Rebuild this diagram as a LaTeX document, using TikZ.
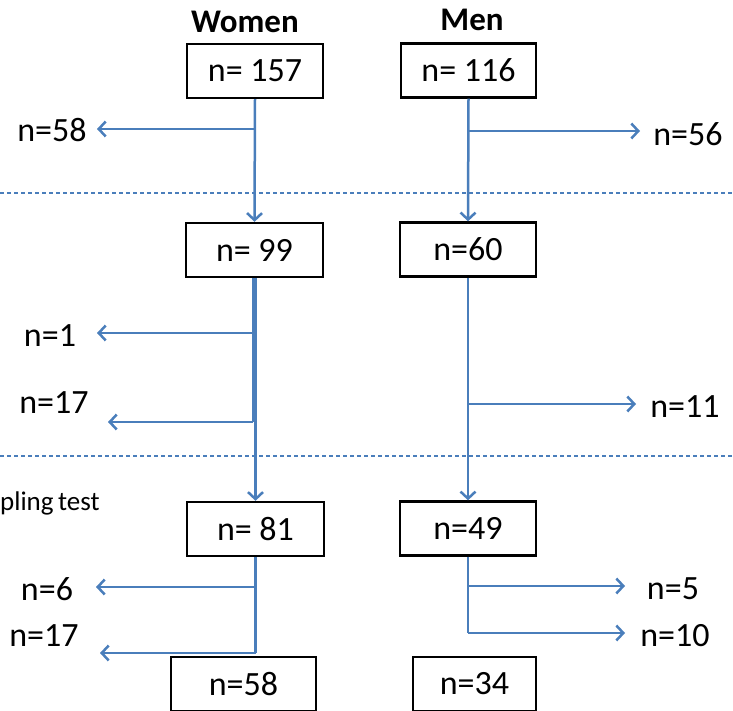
\documentclass[tikz,border=0pt]{standalone}
\usepackage{fontspec}
\setmainfont{Carlito}
\usetikzlibrary{arrows.meta}
\definecolor{flowblue}{HTML}{4A7EBB}
\tikzset{
  boxnode/.style={draw=black, line width=2.4pt, minimum width=#1, minimum height=54pt, inner sep=0pt, font=\fontsize{34}{40}\selectfont},
  lbl/.style={inner sep=0pt, font=\fontsize{34}{40}\selectfont},
  ttl/.style={inner sep=0pt, font=\fontsize{33}{40}\selectfont\bfseries},
  flow/.style={draw=flowblue, line width=2.5pt, -{Straight Barb[length=7pt,width=15pt,line width=2.5pt]}},
  plain/.style={draw=flowblue, line width=2.5pt},
  sep/.style={draw=flowblue, line width=1.1pt, dash pattern=on 4pt off 3pt}
}
\begin{document}
\begin{tikzpicture}[x=1pt,y=-1pt]
\useasboundingbox (0,0) rectangle (733,711);
\clip (0,0) rectangle (733,711);
% titles
\node[ttl] (tw) at (245,22) {Women};
\node[ttl] (tm) at (472,20) {Men};
% boxes
\node[boxnode=136pt] (w1) at (255,71) {n= 157};
\node[boxnode=135pt] (m1) at (468.5,70.5) {n= 116};
\node[boxnode=137pt] (w2) at (254.5,250) {n= 99};
\node[boxnode=136pt] (m2) at (468,249.5) {n=60};
\node[boxnode=137pt] (w3) at (255.5,529) {n= 81};
\node[boxnode=136pt] (m3) at (468,528.5) {n=49};
\node[boxnode=145pt] (w4) at (243.5,684) {n=58};
\node[boxnode=123pt] (m4) at (474.5,684) {n=34};
% separators
\coordinate (s1a) at (0,193); \coordinate (s1b) at (733,193);
\coordinate (s2a) at (0,456); \coordinate (s2b) at (733,456);
\draw[sep] (s1a) -- (s1b);
\draw[sep] (s2a) -- (s2b);
% side text
\node[inner sep=0pt, anchor=west, font=\fontsize{27}{30}\selectfont] (samp) at (0,503) {pling\,test};
% labels
\node[lbl] (l58) at (52,130) {n=58};
\node[lbl] (l56) at (688,134) {n=56};
\node[lbl] (l1) at (50,336) {n=1};
\node[lbl] (l17a) at (54,403) {n=17};
\node[lbl] (l11) at (685,407) {n=11};
\node[lbl] (l6) at (47,589) {n=6};
\node[lbl] (l17b) at (44,636) {n=17};
\node[lbl] (l5) at (673,589) {n=5};
\node[lbl] (l10) at (675,636) {n=10};
% branch coordinates
\coordinate (wb1) at (255,129); \coordinate (we1) at (97,129);
\coordinate (mb1) at (468.5,131); \coordinate (me1) at (640,131);
\coordinate (wb2) at (253,333); \coordinate (we2) at (97,333);
\coordinate (wb3) at (253,422); \coordinate (we3) at (108,422);
\coordinate (mb2) at (468,404); \coordinate (me2) at (636,404);
\coordinate (wb4) at (255.5,587); \coordinate (we4) at (96,587);
\coordinate (wb5) at (255.5,653); \coordinate (we5) at (100,653);
\coordinate (mb3) at (468,586); \coordinate (me3) at (625,586);
\coordinate (mb4) at (468,633); \coordinate (me4) at (625,633);
% women flows
\draw[flow] (w1.south) -- (w2.north);
\draw[flow] (wb1) -- (we1);
\draw[plain] (w2.south -| wb2) -- (wb3);
\draw[flow] (wb2) -- (we2);
\draw[flow] (wb3) -- (we3);
\draw[flow] (w2.south -| w3.north) -- (w3.north);
\draw[plain] (w3.south) -- (wb5);
\draw[flow] (wb4) -- (we4);
\draw[flow] (wb5) -- (we5);
% men flows
\draw[flow] (m1.south) -- (m2.north);
\draw[flow] (mb1) -- (me1);
\draw[flow] (m2.south) -- (m3.north);
\draw[flow] (mb2) -- (me2);
\draw[plain] (m3.south) -- (mb4);
\draw[flow] (mb3) -- (me3);
\draw[flow] (mb4) -- (me4);
\end{tikzpicture}
\end{document}
